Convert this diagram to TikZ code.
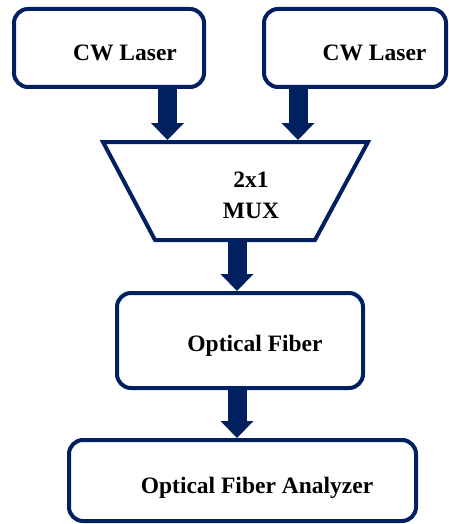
\documentclass[tikz,border=0pt]{standalone}
\usepackage{fontspec}
\setmainfont{Liberation Serif}
\usetikzlibrary{arrows.meta}
\definecolor{navy}{RGB}{0,32,96}
\begin{document}
\begin{tikzpicture}[x=1pt,y=-1pt,
    box/.style={draw=navy,line width=4pt,rounded corners=14pt,fill=white},
    lbl/.style={anchor=base,font=\fontsize{23.5}{31}\selectfont\bfseries,inner sep=0pt},
    bigarrow/.style={navy,line width=19pt,-{Triangle[width=33pt,length=17pt,line width=0pt]}}]
    \useasboundingbox (0,0) rectangle (448,524);
    % blocks
    \node[box,minimum width=190pt,minimum height=78pt] (laserA) at (109,48) {};
    \node[box,minimum width=182pt,minimum height=78pt] (laserB) at (355,48) {};
    \node[box,minimum width=246pt,minimum height=95pt] (fiber) at (240,340.5) {};
    \node[box,minimum width=347pt,minimum height=81pt] (analyzer) at (242.5,480.5) {};
    \draw[navy,line width=4pt,fill=white] (103,142) coordinate (muxtl) -- (368,142) -- (315,240) -- (155,240) -- cycle;
    % labels
    \node[lbl] (tA) at (125,61) {CW Laser};
    \node[lbl] (tB) at (374.5,61) {CW Laser};
    \node[lbl] (tmux1) at (251,187) {2x1};
    \node[lbl] (tmux2) at (251,218) {MUX};
    \node[lbl] (tfiber) at (255,351) {Optical Fiber};
    \node[lbl] (tanalyzer) at (257,493) {Optical Fiber Analyzer};
    % arrows
    \coordinate (inA) at (167.5,140);
    \coordinate (inB) at (298,140);
    \coordinate (muxout) at (237,242);
    \draw[bigarrow] (laserA.south -| inA) -- (inA);
    \draw[bigarrow] (laserB.south -| inB) -- (inB);
    \draw[bigarrow] (muxout) -- (muxout |- fiber.north);
    \draw[bigarrow] (fiber.south -| muxout) -- (muxout |- analyzer.north);
\end{tikzpicture}
\end{document}
